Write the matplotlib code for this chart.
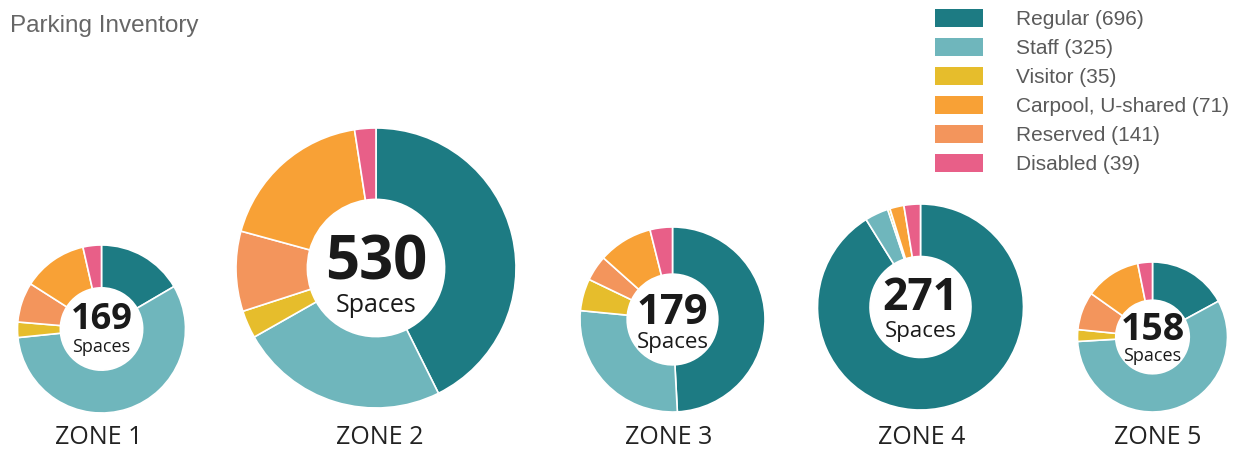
import numpy as np
import matplotlib.pyplot as plt
from matplotlib.patches import Patch

# categories, in clockwise donut order
categories = ["Regular", "Staff", "Visitor", "Reserved", "Carpool, U-shared", "Disabled"]
colors = ["#1d7b83", "#6fb6bc", "#e6bd2c", "#f3955c", "#f8a136", "#e85f88"]

zones = ["ZONE 1", "ZONE 2", "ZONE 3", "ZONE 4", "ZONE 5"]
regular = [28, 226, 88, 247, 27]
staff = [96, 128, 49, 10, 90]
visitor = [5, 17, 10, 1, 4]
reserved = [13, 49, 8, 0, 13]
carpool = [21, 97, 17, 6, 19]
disabled = [6, 13, 7, 7, 5]

# legend entries (order and totals as printed)
legend_labels = ["Regular (696)", "Staff (325)", "Visitor (35)",
                 "Carpool, U-shared (71)", "Reserved (141)", "Disabled (39)"]
legend_colors = ["#1d7b83", "#6fb6bc", "#e6bd2c", "#f8a136", "#f3955c", "#e85f88"]

# layout in pixels (x, y from top, radius) and text sizes
W, H = 1251, 451
centers = [(101.5, 329), (376, 268), (672.5, 319.5), (920.5, 307), (1152.5, 337)]
radii = [84, 140, 92.5, 103, 75]
num_sizes = [26, 43, 30, 32, 27]
sub_sizes = [13, 18, 16, 16, 13]
num_dy = [-9, -4, -6, -8, -7]
sub_dy = [18, 38, 23, 25, 19]

fig = plt.figure(figsize=(W / 100, H / 100), dpi=100)
ax = fig.add_axes([0, 0, 1, 1])

data = np.array([regular, staff, visitor, reserved, carpool, disabled]).T

for i, vals in enumerate(data):
    cx, cy = centers[i]
    r = radii[i]
    ax.pie(vals, colors=colors, radius=r, center=(cx, H - cy),
           startangle=90, counterclock=False,
           wedgeprops=dict(width=r * 0.51, edgecolor="white", linewidth=1.2))
    total = int(vals.sum())
    ax.text(cx, H - cy - num_dy[i], str(total), ha="center", va="center",
            fontsize=num_sizes[i], fontweight="bold", color="#1a1a1a",
            family="Open Sans")
    ax.text(cx, H - cy - sub_dy[i], "Spaces", ha="center", va="center",
            fontsize=sub_sizes[i], color="#1a1a1a", family="Open Sans")

label_x = [99, 380, 669, 922, 1158]
for x, z in zip(label_x, zones):
    ax.text(x, H - 437, z, ha="center", va="center", fontsize=18,
            color="#222222", family="Open Sans")

ax.text(10, H - 26, "Parking Inventory", ha="left", va="center",
        fontsize=17.5, color="#666666", family="Liberation Sans")

handles = [Patch(facecolor=c, edgecolor="none") for c in legend_colors]
leg = ax.legend(handles, legend_labels, loc="upper left",
                bbox_to_anchor=(935, H - 9), bbox_transform=ax.transData,
                frameon=False, borderpad=0, borderaxespad=0,
                handlelength=2.3, handleheight=0.96, handletextpad=1.6,
                labelspacing=0.42, prop=dict(family="Liberation Sans", size=15))
for t in leg.get_texts():
    t.set_color("#5a5a5a")

ax.set_xlim(0, W)
ax.set_ylim(0, H)
ax.set_aspect("equal")
ax.axis("off")

fig.savefig("out.png", dpi=100, facecolor="white")
